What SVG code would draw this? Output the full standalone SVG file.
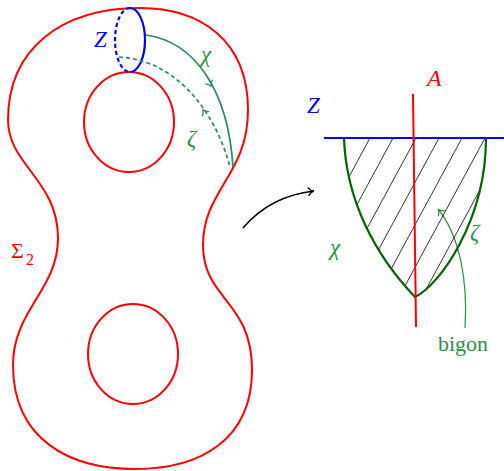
<svg xmlns="http://www.w3.org/2000/svg" xmlns:xlink="http://www.w3.org/1999/xlink" width="504" height="471" viewBox="0 0 504 471">
<style>
.red{fill:none;stroke:#ff0000;stroke-width:2}
.blue{fill:none;stroke:#0000ff;stroke-width:2.2}
.mth{font-family:"Liberation Serif",serif;font-style:italic}
.rm{font-family:"Liberation Serif",serif}
.tip{fill:none;stroke-width:1.3;stroke-linecap:round}
.hatch line{stroke:#000;stroke-width:0.8}
</style>
<defs>
<path id="tipshape" d="M-4.5,-3.8 C-3,-1.6 -1,-0.4 0.6,0 C-1,0.4 -3,1.6 -4.5,3.8"/>
<marker id="blackarrow" markerWidth="12" markerHeight="12" refX="1" refY="5" orient="auto" markerUnits="userSpaceOnUse" viewBox="-6 0 12 10">
<path d="M-4.5,1.2 C-3,3.4 -1,4.6 0.6,5 C-1,5.4 -3,6.6 -4.5,8.8" fill="none" stroke="#000" stroke-width="1.4" stroke-linecap="round"/>
</marker>
<marker id="greenarrow" markerWidth="12" markerHeight="12" refX="1" refY="5" orient="auto" markerUnits="userSpaceOnUse" viewBox="-6 0 12 10">
<path d="M-4.5,1.2 C-3,3.4 -1,4.6 0.6,5 C-1,5.4 -3,6.6 -4.5,8.8" fill="none" stroke="#2f8f45" stroke-width="1.2" stroke-linecap="round"/>
</marker>
<clipPath id="bigonclip">
<path d="M344,138 C346,200 375,255 415,297 C440,285 486,220 486,138 Z"/>
</clipPath>
</defs>

<g id="surface">
<path class="red" d="M140,8 C60,8 8,50 8,120 C8,165 58,180 58,238 C58,290 13,310 13,365 C13,440 70,469 135,469 C200,469 252,440 252,370 C252,300 203,300 203,245 C203,190 248,175 248,110 C248,40 200,8 140,8 Z"/>
<ellipse class="red" cx="129" cy="122" rx="45" ry="50"/>
<ellipse class="red" cx="133" cy="354" rx="45" ry="50"/>
<text class="rm" x="11" y="258" font-size="22" fill="#ff0000">Σ</text>
<text class="rm" x="26" y="265" font-size="16" fill="#ff0000">2</text>
</g>

<g id="curve-Z">
<path class="blue" d="M130,8 A15,32 0 0 1 130,72"/>
<path class="blue" d="M130,8 A15,32 0 0 0 130,72" stroke-dasharray="4,3" stroke-width="2"/>
<text class="mth" x="94" y="47" font-size="23" fill="#0000ff">Z</text>
</g>

<g id="curve-chi">
<path d="M146,35 C195,42 228,90 233,167" fill="none" stroke="#2e8b57" stroke-width="1.7"/>
<use xlink:href="#tipshape" class="tip" stroke="#2e8b57" transform="translate(211,86) rotate(62)"/>
<text class="mth" x="201" y="62" font-size="23" fill="#2f8f45">χ</text>
</g>

<g id="curve-zeta">
<path d="M119,57 C175,60 215,110 230,167" fill="none" stroke="#2e8b57" stroke-width="1.7" stroke-dasharray="4,3"/>
<use xlink:href="#tipshape" class="tip" stroke="#2e8b57" transform="translate(203,110) rotate(236)"/>
<text class="mth" x="187" y="146" font-size="23" fill="#2f8f45">ζ</text>
</g>

<g id="connectors">
<path d="M243,228 Q270,196 314,191" fill="none" stroke="#000" stroke-width="1.6" marker-end="url(#blackarrow)"/>
<path d="M465,328 C468,282 460,236 438,209" fill="none" stroke="#2f8f45" stroke-width="1.2" marker-end="url(#greenarrow)"/>
</g>

<g id="bigon">
<g class="hatch" clip-path="url(#bigonclip)">
<line x1="370" y1="138" x2="278" y2="308"/>
<line x1="393" y1="138" x2="301" y2="308"/>
<line x1="416" y1="138" x2="324" y2="308"/>
<line x1="439" y1="138" x2="347" y2="308"/>
<line x1="462" y1="138" x2="370" y2="308"/>
<line x1="485" y1="138" x2="393" y2="308"/>
<line x1="508" y1="138" x2="416" y2="308"/>
<line x1="531" y1="138" x2="439" y2="308"/>
<line x1="554" y1="138" x2="462" y2="308"/>
</g>
<path d="M344,138 C346,200 375,255 415,297 C440,285 486,220 486,138" fill="none" stroke="#006400" stroke-width="2.2" stroke-linejoin="round"/>
<line x1="324" y1="138" x2="504" y2="138" stroke="#0000ff" stroke-width="2"/>
<line x1="413" y1="94" x2="416" y2="327" stroke="#ff0000" stroke-width="2"/>
<text class="mth" x="307" y="113" font-size="23" fill="#0000ff">Z</text>
<text class="mth" x="427" y="86" font-size="24" fill="#ff0000">A</text>
<text class="mth" x="330" y="255" font-size="23" fill="#2f8f45">χ</text>
<text class="mth" x="470" y="240" font-size="23" fill="#2f8f45">ζ</text>
<text class="rm" x="463" y="351" font-size="22" fill="#2f8f45" text-anchor="middle">bigon</text>
</g>
</svg>
